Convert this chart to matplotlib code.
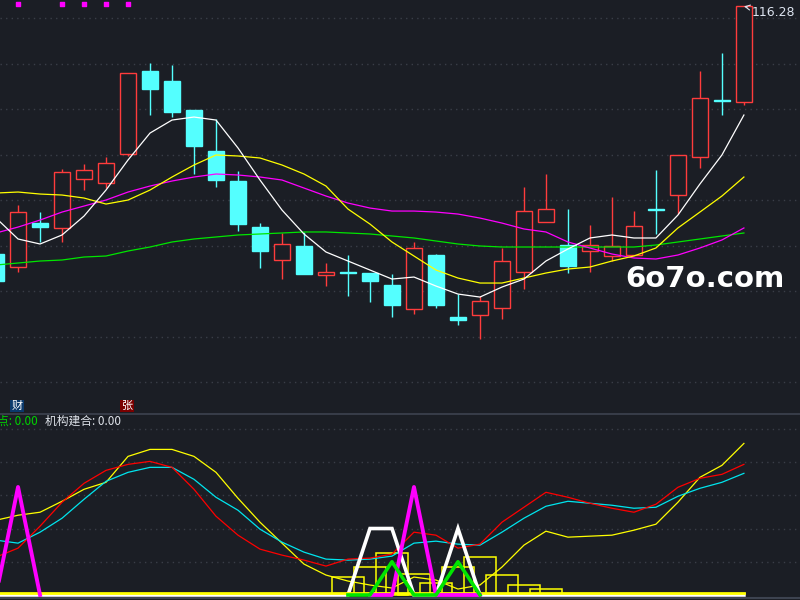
import matplotlib
matplotlib.use('Agg')
import matplotlib.pyplot as plt
from matplotlib.lines import Line2D
from matplotlib.patches import Rectangle
import numpy as np

BG = '#1b1e25'
GRID = '#3a3e48'
UP = '#ff3c3c'
DOWN = '#54ffff'

# ---- K line data (35 days) ----
opens = [89.07, 87.64, 92.47, 91.92, 97.31, 96.87, 100.05, 109.18, 108.08, 104.89,
         100.38, 97.09, 92.03, 88.41, 89.95, 86.76, 87.09, 86.98, 85.66, 83.02,
         88.96, 82.14, 82.36, 83.13, 87.09, 92.58, 90.05, 89.40, 88.85, 88.96,
         94.01, 95.55, 99.73, 105.99, 105.77]
closes = [86.10, 93.68, 92.03, 98.08, 98.30, 99.07, 108.96, 107.20, 104.67, 100.93,
          97.20, 92.36, 89.40, 90.16, 86.87, 87.09, 86.98, 86.10, 83.46, 89.73,
          83.46, 81.81, 83.90, 88.30, 93.79, 94.01, 87.75, 90.05, 89.95, 92.14,
          93.90, 99.95, 106.21, 105.89, 116.28]
highs = [89.51, 94.45, 93.68, 98.41, 98.96, 99.73, 108.96, 110.05, 109.84, 104.89,
         103.90, 98.19, 92.47, 91.37, 91.48, 88.08, 88.96, 86.98, 86.87, 90.38,
         89.07, 84.67, 84.45, 89.73, 96.43, 97.86, 94.01, 92.25, 95.33, 93.79,
         98.30, 99.95, 109.18, 111.15, 116.28]
lows = [85.66, 87.09, 90.38, 90.38, 96.10, 96.32, 99.84, 104.34, 104.12, 97.86,
        96.43, 91.59, 87.53, 86.32, 86.87, 85.55, 84.45, 83.79, 82.14, 82.47,
        83.13, 81.26, 79.73, 81.92, 85.22, 92.58, 86.98, 87.09, 88.30, 88.96,
        91.26, 93.46, 98.52, 104.34, 105.44]

ma5 = [93.02, 90.72, 90.17, 91.16, 93.24, 96.10, 99.40, 102.36, 103.79, 104.12,
       103.79, 100.72, 97.20, 93.90, 91.27, 89.29, 88.30, 87.31, 86.32, 86.54,
       85.55, 84.67, 84.34, 85.44, 86.32, 88.30, 89.62, 90.83, 91.16, 90.83,
       90.83, 93.35, 96.76, 99.95, 104.34]
ma10 = [95.77, 95.88, 95.66, 95.55, 95.22, 94.56, 95.00, 96.10, 97.53, 98.85,
        99.95, 99.84, 99.62, 98.85, 97.86, 96.54, 94.01, 92.36, 90.39, 88.85,
        87.31, 86.43, 85.88, 85.88, 86.43, 86.98, 87.42, 87.64, 88.30, 88.85,
        89.73, 91.93, 93.68, 95.44, 97.53]
ma20 = [91.38, 92.03, 92.80, 93.68, 94.34, 95.00, 95.88, 96.54, 97.09, 97.53,
        97.86, 97.75, 97.53, 97.20, 96.32, 95.44, 94.67, 94.12, 93.79, 93.79,
        93.68, 93.46, 93.02, 92.47, 91.82, 91.49, 90.39, 89.73, 89.07, 88.63,
        88.52, 88.96, 89.73, 90.61, 91.93]
ma60 = [87.86, 88.08, 88.30, 88.41, 88.74, 88.85, 89.40, 89.84, 90.39, 90.72,
        90.94, 91.16, 91.27, 91.38, 91.49, 91.49, 91.38, 91.27, 91.05, 90.83,
        90.50, 90.17, 89.95, 89.84, 89.84, 89.84, 89.84, 89.84, 89.84, 89.84,
        90.06, 90.39, 90.72, 91.05, 91.38]

signal_days = [1, 3, 4, 5, 6]
last_price = 116.28

# ---- indicator panel ----
ind_red = [22.8, 28.2, 41.4, 55.8, 67.2, 75.0, 78.6, 80.4, 76.8, 63.6,
           47.4, 36.0, 27.6, 24.0, 21.0, 17.4, 21.6, 22.2, 24.6, 37.8,
           36.0, 28.2, 30.6, 43.8, 52.8, 61.8, 58.8, 55.2, 52.2, 49.8,
           54.6, 64.8, 70.2, 72.6, 78.6]
ind_cyan = [33.0, 31.2, 37.8, 46.2, 57.6, 68.4, 73.8, 76.8, 76.8, 69.6,
            58.8, 51.0, 39.6, 31.8, 25.8, 21.6, 21.0, 21.6, 23.4, 31.2,
            32.4, 30.6, 30.0, 37.8, 46.2, 53.4, 56.4, 55.2, 54.0, 52.2,
            52.8, 59.4, 64.2, 67.8, 73.2]
ind_yellow = [45.0, 48.0, 49.8, 56.4, 63.6, 67.8, 83.4, 87.6, 87.6, 83.4,
              73.8, 58.2, 43.8, 31.2, 18.6, 12.0, 8.4, 6.0, 4.2, 10.8,
              9.0, 3.6, 6.0, 16.8, 30.0, 38.4, 34.8, 35.4, 36.0, 39.0,
              42.6, 55.8, 70.8, 78.0, 91.2]
box_days = [16, 17, 18, 19, 20, 21, 22, 23, 24, 25]
box_vals = [10.8, 16.8, 25.2, 12.6, 7.2, 16.8, 22.8, 12.0, 6.0, 3.6]
mag_days1 = [0, 1, 2]
mag_vals1 = [0, 65, 0]
mag_days2 = [17, 18, 19, 20, 21, 22]
mag_vals2 = [0, 0, 65, 0, 0, 0]
green_days = [16, 17, 18, 19, 20, 21, 22]
green_vals = [0, 0, 20, 0, 0, 20, 0]
white_vals = [0] * 17 + [40, 40, 0, 0, 40] + [0] * 13
yellow_base = [1.5] * 35

n = len(opens)
idx = np.arange(n)

fig = plt.figure(figsize=(8, 6), dpi=100, facecolor=BG)
ax = fig.add_axes([0, 1 - 414 / 600, 1, 414 / 600])
ax2 = fig.add_axes([0, 3 / 600, 1, 182.5 / 600])
for a in (ax, ax2):
    a.set_facecolor(BG)
    a.set_xlim(0.18, 36.55)
    a.set_xticks([])
    a.set_yticks([])
    for s in a.spines.values():
        s.set_visible(False)

# main panel
ax.set_ylim(71.49, 116.98)
for g in [115, 110, 105, 100, 95, 90, 85, 80, 75]:
    ax.axhline(g, color=GRID, lw=1, ls=(0, (1, 3)), zorder=0)

colors = [UP if c >= o else DOWN for o, c in zip(opens, closes)]
ax.vlines(idx, lows, highs, colors=colors, lw=1, zorder=2)
bottoms = np.minimum(opens, closes)
heights = np.maximum(np.abs(np.array(closes) - np.array(opens)), 0.15)
faces = [BG if c == UP else DOWN for c in colors]
ax.bar(idx, heights, bottom=bottoms, width=0.74, color=faces,
       edgecolor=colors, linewidth=1, zorder=3)

ax.plot(idx, ma60, color='#00e600', lw=0.9, zorder=4)
ax.plot(idx, ma20, color='#ff00ff', lw=0.9, zorder=4)
ax.plot(idx, ma10, color='#ffff00', lw=0.9, zorder=4)
ax.plot(idx, ma5, color='#ffffff', lw=0.9, zorder=4)

ax.scatter(signal_days, [0.99] * len(signal_days), marker='s', s=5,
           color='#ff00ff', transform=ax.get_xaxis_transform(), zorder=5)

ax.annotate(f'{last_price:.2f}', xy=(n - 1, last_price), xytext=(795, 588),
            textcoords='figure pixels', color='#dde4f0', fontsize=9,
            va='center', ha='right',
            arrowprops=dict(arrowstyle='->', color='#dde4f0', lw=0.8,
                            shrinkA=1, shrinkB=0))

# indicator panel
ax2.set_ylim(-1.2, 108.6)
for g in [20, 40, 60, 80, 100]:
    ax2.axhline(g, color=GRID, lw=1, ls=(0, (1, 3)), zorder=0)

for d, v in zip(box_days, box_vals):
    ax2.add_patch(Rectangle((d - 0.73, 0), 1.46, v, fill=False,
                            edgecolor='#ffff00', lw=1.1, zorder=1))

ax2.plot(idx, ind_yellow, color='#ffff00', lw=0.9, zorder=2)
ax2.plot(idx, ind_cyan, color='#00e5ee', lw=0.9, zorder=2)
ax2.plot(idx, ind_red, color='#ff0000', lw=0.9, zorder=2)

ax2.plot(idx, white_vals, color='#ffffff', lw=2.6, zorder=3,
         solid_joinstyle='miter')
ax2.plot(idx, yellow_base, color='#ffff00', lw=2.0, zorder=3)
ax2.plot(mag_days1, mag_vals1, color='#ff00ff', lw=2.8, zorder=4)
ax2.plot(mag_days2, mag_vals2, color='#ff00ff', lw=2.8, zorder=4)
ax2.plot(green_days, green_vals, color='#00e600', lw=2.6, zorder=5)

# separators
fig.add_artist(Line2D([0, 1], [1 - 413.5 / 600] * 2, color='#3d4350', lw=1.2))
fig.add_artist(Line2D([0, 1], [1 - 597.5 / 600] * 2, color='#3d4350', lw=1.5))

cjk = ['Noto Sans CJK SC', 'DejaVu Sans']


def px(x, y):
    return x / 800, 1 - y / 600


fig.text(*px(17, 406), '财', family=cjk, fontsize=8, color='white',
         ha='center', va='center',
         bbox=dict(boxstyle='square,pad=0.1', fc='#0b3a6c', ec='none'))
fig.text(*px(127, 406), '张', family=cjk, fontsize=8, color='white',
         ha='center', va='center',
         bbox=dict(boxstyle='square,pad=0.1', fc='#7a0000', ec='none'))
fig.text(*px(-3, 421), '点: 0.00', family=cjk, fontsize=8.5, color='#00d200',
         ha='left', va='center')
fig.text(*px(45, 421), '机构建合: 0.00', family=cjk, fontsize=8.5,
         color='#dfe3ea', ha='left', va='center')

fig.text(*px(705, 279), '6o7o.com', fontsize=21, fontweight='bold',
         color='white', ha='center', va='center')

fig.savefig('out.png', dpi=100, facecolor=BG)
